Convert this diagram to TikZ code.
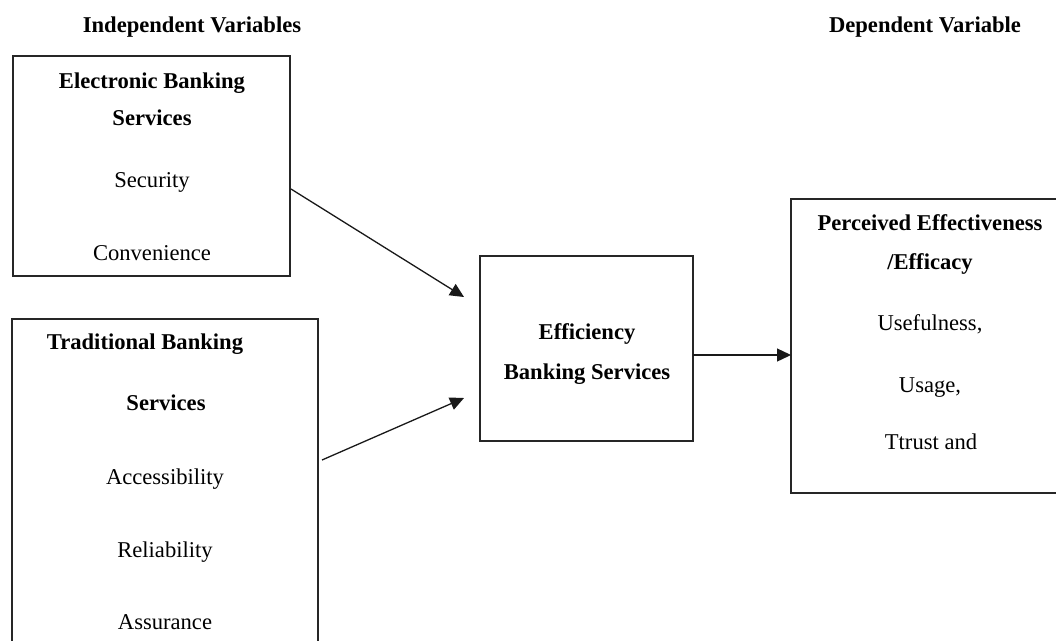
\documentclass[tikz,border=0pt]{standalone}
\usepackage{fontspec}
\setmainfont{Liberation Serif}
\usetikzlibrary{arrows.meta,calc}
\begin{document}
\begin{tikzpicture}[x=1pt,y=-1pt,
  box/.style={draw=black!85,line width=1.3pt,fill=none},
  lbl/.style={anchor=base,inner sep=0pt,font=\fontsize{22.6}{27}\selectfont},
  blbl/.style={lbl,font=\fontsize{22.6}{27}\selectfont\bfseries},
  conn/.style={draw=black!90,line width=1.3pt,-{Triangle[length=14pt,width=13pt]}}]
\useasboundingbox (0,0) rectangle (1056,640);
\clip (0,0) rectangle (1056,640);
% boxes
\draw[box] (13,56) rectangle (290,276);
\draw[box] (12,660) -- (12,319) -- (318,319) -- (318,660);
\draw[box] (480,256) rectangle (693,441);
\draw[box] (1075,199) -- (791,199) -- (791,493) -- (1075,493);
% named coordinates on box edges
\coordinate (e1) at (291,189);
\coordinate (e2) at (322,460);
\coordinate (m1) at (464,297);
\coordinate (m2) at (464,398);
\coordinate (mo) at (693,355);
\coordinate (ri) at (791,355);
% headers
\node[blbl] (hi) at (192,32) {Independent Variables};
\node[blbl] (hd) at (925,32) {Dependent Variable};
% box 1
\node[blbl] (b1a) at (152,88) {Electronic Banking};
\node[blbl] (b1b) at (152,125) {Services};
\node[lbl] (b1c) at (152,187) {Security};
\node[lbl] (b1d) at (152,260) {Convenience};
% box 2
\node[blbl] (b2a) at (145,349) {Traditional Banking};
\node[blbl] (b2b) at (166,410) {Services};
\node[lbl] (b2c) at (165,484) {Accessibility};
\node[lbl] (b2d) at (165,557) {Reliability};
\node[lbl] (b2e) at (165,629) {Assurance};
% middle
\node[blbl] (ma) at (587,339) {Efficiency};
\node[blbl] (mb) at (587,379) {Banking Services};
% right
\node[blbl] (ra) at (930,230) {Perceived Effectiveness};
\node[blbl] (rb) at (930,269) {/Efficacy};
\node[lbl] (rc) at (930,330) {Usefulness,};
\node[lbl] (rd) at (930,392) {Usage,};
\node[lbl] (re) at (931,449) {Ttrust and};
% connectors
\draw[conn] (e1) -- (m1);
\draw[conn] (e2) -- (m2);
\draw[conn] (mo) -- (ri);
\end{tikzpicture}
\end{document}
